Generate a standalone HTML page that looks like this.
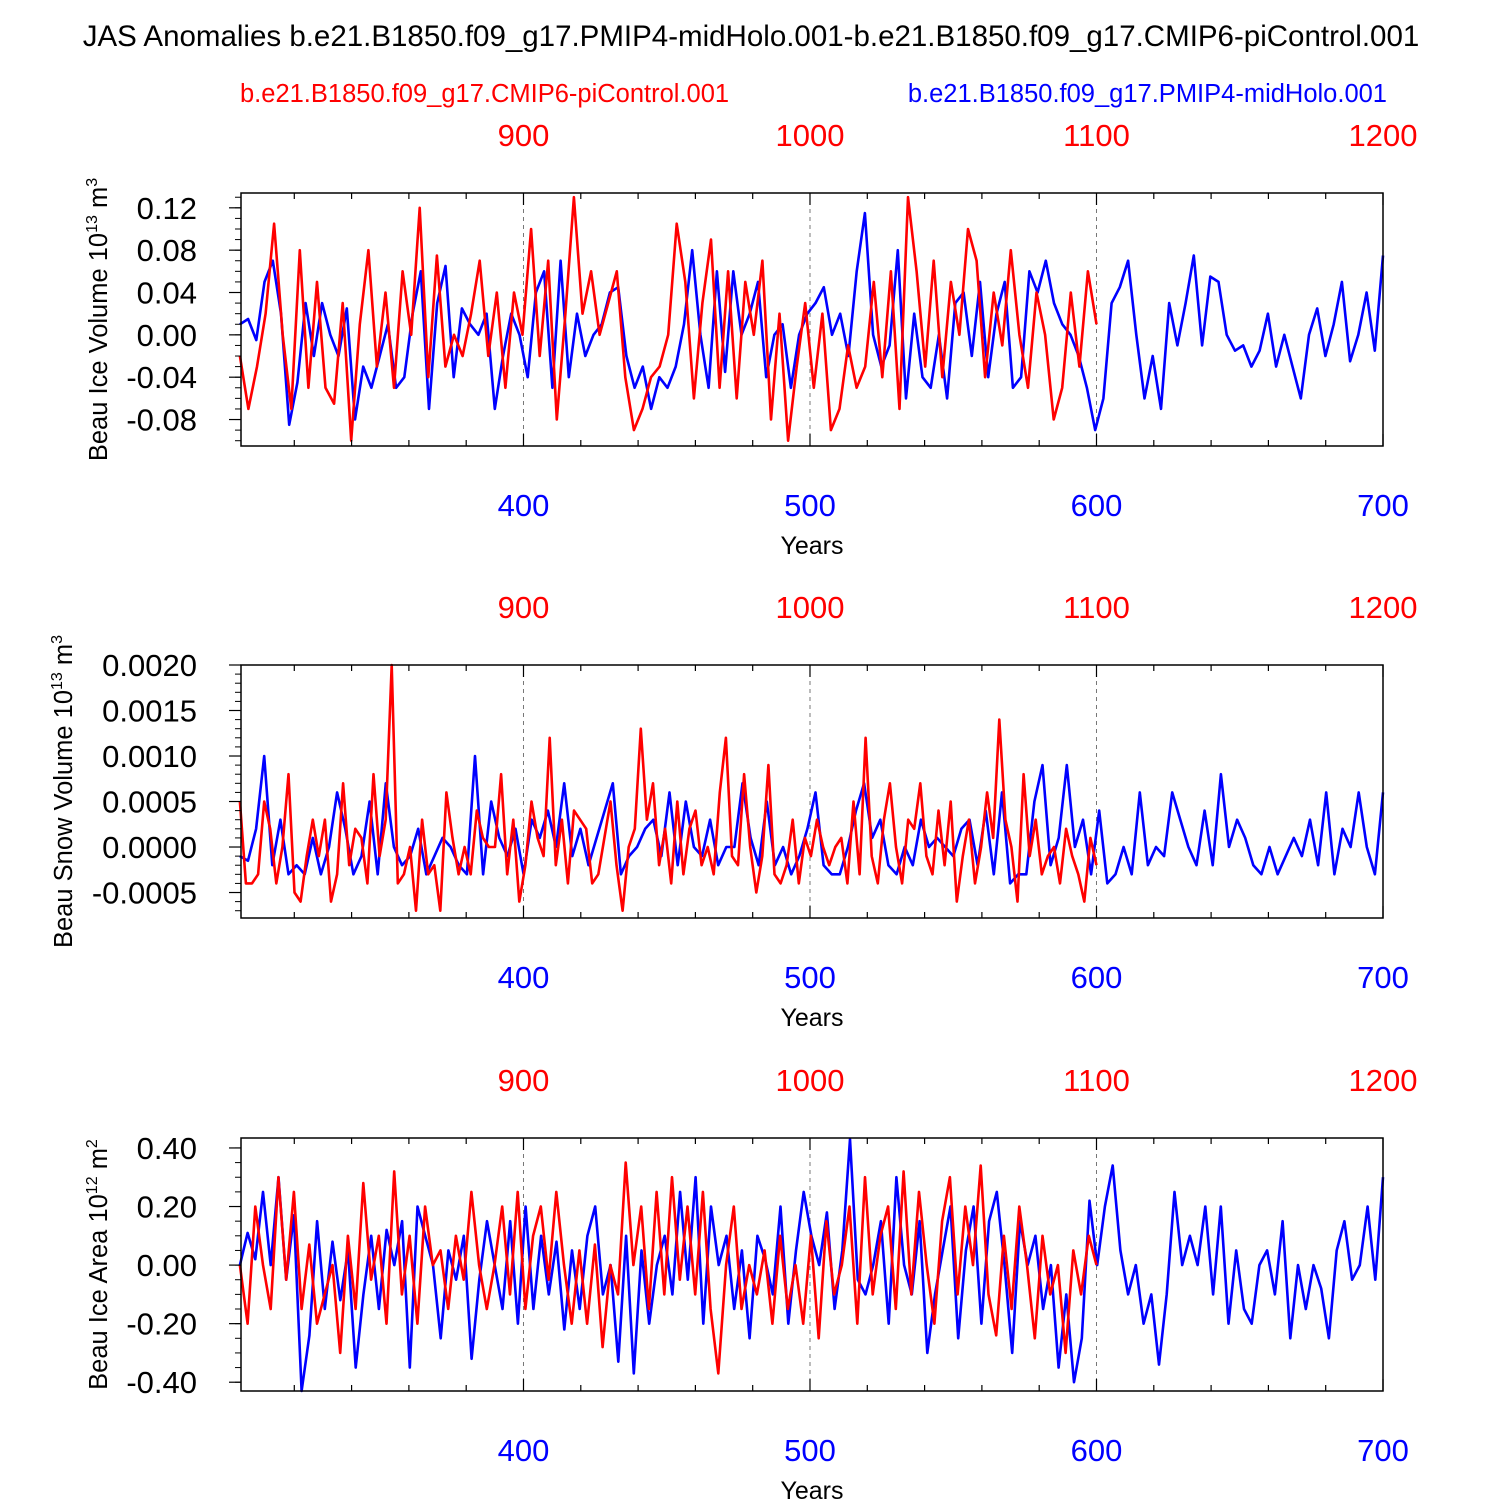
<!DOCTYPE html>
<html><head><meta charset="utf-8"><style>
body{margin:0;background:#fff;}
svg text{font-family:"Liberation Sans",Arial,sans-serif;}
</style></head><body>
<svg id="chart" width="1500" height="1500" xmlns="http://www.w3.org/2000/svg">
<text x="751" y="46" font-size="29.5" text-anchor="middle">JAS Anomalies b.e21.B1850.f09_g17.PMIP4-midHolo.001-b.e21.B1850.f09_g17.CMIP6-piControl.001</text>
<text x="240" y="102" font-size="25.5" fill="#ff0000">b.e21.B1850.f09_g17.CMIP6-piControl.001</text>
<text x="1387" y="102" font-size="25.5" fill="#0000ff" text-anchor="end">b.e21.B1850.f09_g17.PMIP4-midHolo.001</text>
</svg>
<script>
const blueTicks=[400,500,600,700];
const redTickLabels=["900","1000","1100","1200"];
const blue1=[0.01,0.015,-0.005,0.05,0.07,0.02,-0.085,-0.045,0.03,-0.02,0.03,0.0,-0.02,0.025,-0.08,-0.03,-0.05,-0.02,0.01,-0.05,-0.04,0.02,0.06,-0.07,0.03,0.065,-0.04,0.025,0.01,0.0,0.02,-0.07,-0.02,0.02,0.0,-0.04,0.04,0.06,-0.05,0.07,-0.04,0.02,-0.02,0.0,0.01,0.04,0.045,-0.02,-0.05,-0.03,-0.07,-0.04,-0.05,-0.03,0.01,0.08,0.0,-0.05,0.06,-0.035,0.06,0.0,0.02,0.05,-0.04,0.0,0.01,-0.05,0.0,0.02,0.03,0.045,0.0,0.02,-0.02,0.06,0.115,0.0,-0.03,-0.01,0.08,-0.06,0.02,-0.04,-0.05,0.0,-0.06,0.03,0.04,-0.02,0.05,-0.04,0.02,0.05,-0.05,-0.04,0.06,0.04,0.07,0.03,0.01,0.0,-0.02,-0.05,-0.09,-0.06,0.03,0.045,0.07,0.0,-0.06,-0.02,-0.07,0.03,-0.01,0.03,0.075,-0.01,0.055,0.05,0.0,-0.015,-0.01,-0.03,-0.015,0.02,-0.03,0.0,-0.03,-0.06,0.0,0.025,-0.02,0.01,0.05,-0.025,0.0,0.04,-0.015,0.075];
const red1=[-0.02,-0.07,-0.03,0.02,0.105,0.0,-0.07,0.08,-0.05,0.05,-0.05,-0.065,0.03,-0.1,0.01,0.08,-0.03,0.04,-0.05,0.06,0.0,0.12,-0.04,0.075,-0.03,0.0,-0.02,0.02,0.07,-0.02,0.04,-0.05,0.04,0.0,0.1,-0.02,0.07,-0.08,0.02,0.13,0.02,0.06,0.0,0.03,0.06,-0.04,-0.09,-0.07,-0.04,-0.03,0.0,0.105,0.05,-0.06,0.03,0.09,-0.05,0.06,-0.06,0.05,0.0,0.07,-0.08,0.02,-0.1,-0.03,0.03,-0.05,0.02,-0.09,-0.07,-0.01,-0.05,-0.03,0.05,-0.04,0.06,-0.07,0.13,0.06,-0.03,0.07,-0.04,0.05,0.0,0.1,0.07,-0.04,0.04,-0.01,0.08,0.0,-0.05,0.04,0.0,-0.08,-0.05,0.04,-0.03,0.06,0.01];
const blue2=[-0.0001,-0.00015,0.0002,0.001,-0.0002,0.0003,-0.0003,-0.0002,-0.0003,0.0001,-0.0003,0.0,0.0006,0.0002,-0.0003,-0.0001,0.0005,-0.0003,0.0007,0.0,-0.0002,-0.0001,0.0002,-0.0003,-0.0001,0.0001,0.0,-0.0002,-0.0003,0.001,-0.0003,0.0005,0.0001,-0.0001,0.0002,-0.0003,0.0003,0.0001,0.0004,0.0,0.0007,-0.0001,0.0002,-0.0002,0.0001,0.0004,0.0007,-0.0003,-0.0001,0.0,0.0002,0.0003,-0.0001,0.0006,-0.0002,0.0005,0.0,-0.0001,0.0003,-0.0002,0.0,0.0,0.0007,0.0001,-0.0002,0.0005,-0.0002,0.0,-0.0003,-0.0001,0.0002,0.0006,-0.0002,-0.0003,-0.0003,0.0,0.0004,0.0007,0.0001,0.0003,-0.0002,-0.0003,0.0,-0.0002,0.0003,0.0,0.0001,0.0,-0.0001,0.0002,0.0003,-0.0002,0.0004,-0.0003,0.0006,-0.0004,-0.0003,-0.0003,0.0005,0.0009,-0.0002,0.0001,0.0009,0.0,0.0003,-0.0003,0.0004,-0.0004,-0.0003,0.0,-0.0003,0.0006,-0.0002,0.0,-0.0001,0.0006,0.0003,0.0,-0.0002,0.0004,-0.0002,0.0008,0.0,0.0003,0.0001,-0.0002,-0.0003,0.0,-0.0003,-0.0001,0.0001,-0.0001,0.0003,-0.0002,0.0006,-0.0003,0.0002,0.0,0.0006,0.0,-0.0003,0.0006];
const red2=[0.0005,-0.0004,-0.0004,-0.0003,0.0005,0.0002,-0.0004,0.0,0.0008,-0.0005,-0.0006,-0.0001,0.0003,-0.0001,0.0003,-0.0006,-0.0003,0.0007,-0.0002,0.0002,0.0001,-0.0004,0.0008,-0.0001,0.0003,0.002,-0.0004,-0.0003,0.0,-0.0007,0.0003,-0.0003,-0.0002,-0.0007,0.0006,0.0001,-0.0003,0.0,-0.0003,0.0004,0.0001,0.0,0.0,0.0008,-0.0003,0.0003,-0.0006,-0.0002,0.0005,0.0001,-0.0001,0.0012,-0.0002,0.0003,-0.0004,0.0004,0.0003,0.0002,-0.0004,-0.0003,0.0001,0.0005,-0.0002,-0.0007,0.0,0.0002,0.0013,0.0003,0.0007,-0.0002,0.0002,-0.0004,0.0005,-0.0003,0.0002,0.0004,-0.0002,0.0,-0.0003,0.0006,0.0012,-0.0001,-0.0002,0.0008,0.0,-0.0005,-0.0001,0.0009,-0.0003,-0.0004,-0.0002,0.0003,-0.0004,0.0001,-0.0001,0.0003,0.0,-0.0002,0.0,0.0001,-0.0004,0.0005,-0.0003,0.0012,-0.0001,-0.0004,0.0003,0.0007,0.0,-0.0004,0.0003,0.0002,0.0007,-0.0001,-0.0003,0.0004,-0.0002,0.0005,-0.0006,-0.0001,0.0003,-0.0004,0.0,0.0006,0.0001,0.0014,0.0003,0.0,-0.0006,0.0008,-0.0001,0.0003,-0.0003,-0.0001,0.0,-0.0004,0.0002,-0.0001,-0.0003,-0.0006,0.0001,-0.0002];
const blue3=[0.0,0.11,0.02,0.25,0.0,0.3,-0.05,0.17,-0.43,-0.24,0.15,-0.15,0.08,-0.12,0.05,-0.35,-0.1,0.1,-0.15,0.12,0.0,0.15,-0.35,0.2,0.1,0.0,-0.25,0.05,-0.05,0.1,-0.32,-0.05,0.15,0.0,-0.15,0.15,-0.2,0.2,-0.15,0.1,-0.1,0.08,-0.22,0.05,-0.15,0.1,0.2,-0.1,0.0,-0.33,0.1,-0.37,0.05,-0.2,0.0,0.1,-0.1,0.25,-0.05,0.3,-0.2,0.2,0.0,0.1,-0.15,0.05,-0.25,0.1,0.02,-0.1,0.2,-0.2,0.05,0.25,0.1,0.0,0.18,-0.15,0.05,0.43,-0.05,-0.1,0.0,0.15,-0.2,0.3,0.0,-0.1,0.15,-0.3,-0.1,0.05,0.2,-0.25,0.05,0.2,-0.2,0.15,0.25,0.0,-0.3,0.15,0.0,0.1,-0.15,0.0,-0.35,-0.1,-0.4,-0.25,0.22,0.0,0.2,0.34,0.05,-0.1,0.0,-0.2,-0.1,-0.34,-0.1,0.25,0.0,0.1,0.0,0.2,-0.1,0.2,-0.2,0.05,-0.15,-0.2,0.0,0.05,-0.1,0.15,-0.25,0.0,-0.15,0.0,-0.08,-0.25,0.05,0.15,-0.05,0.0,0.2,-0.05,0.3];
const red3=[0.0,-0.2,0.2,0.0,-0.15,0.3,-0.05,0.25,-0.15,0.07,-0.2,-0.1,0.0,-0.3,0.1,-0.15,0.28,-0.05,0.1,-0.2,0.32,-0.1,0.1,-0.2,0.2,0.0,0.05,-0.15,0.1,-0.05,0.25,0.0,-0.15,0.0,0.2,-0.1,0.25,-0.15,0.1,0.2,-0.05,0.25,0.0,-0.2,0.05,-0.2,0.07,-0.28,0.0,-0.1,0.35,0.0,0.2,-0.15,0.25,-0.1,0.3,-0.05,0.2,-0.1,0.25,-0.15,-0.37,0.0,0.2,-0.15,0.0,-0.1,0.05,-0.2,0.1,-0.15,0.0,-0.2,0.1,-0.25,0.15,-0.1,0.0,0.2,-0.2,0.3,-0.1,0.1,0.2,-0.15,0.32,-0.1,0.25,0.0,-0.2,0.15,0.3,-0.1,0.2,0.0,0.34,-0.1,-0.24,0.1,-0.15,0.2,0.0,-0.25,0.1,-0.1,0.0,-0.3,0.05,-0.1,0.1,0.0];
const yTicks1=[0.12,0.08,0.04,0.0,-0.04,-0.08];
const yLabels1=["0.12","0.08","0.04","0.00","-0.04","-0.08"];
const yTicks2=[0.002,0.0015,0.001,0.0005,0.0,-0.0005];
const yLabels2=["0.0020","0.0015","0.0010","0.0005","0.0000","-0.0005"];
const yTicks3=[0.4,0.2,0.0,-0.2,-0.4];
const yLabels3=["0.40","0.20","0.00","-0.20","-0.40"];

const NS="http://www.w3.org/2000/svg";
const svg=document.getElementById('chart');
function mk(tag,attrs,parent){const e=document.createElementNS(NS,tag);for(const k in attrs)e.setAttribute(k,attrs[k]);(parent||svg).appendChild(e);return e;}
const X0=241,X1=1383,XMIN=301.4,XMAX=700;
function xs(yr){return X0+(yr-XMIN)/(XMAX-XMIN)*(X1-X0);}
const panels=[
 {top:193,bot:446,vmax:0.134,vmin:-0.105,minor:0.01,ticks:yTicks1,labels:yLabels1,blue:blue1,red:red1,title:"Beau Ice Volume 10",sup:"13",unit:" m",usup:"3",tx:107},
 {top:665,bot:918,vmax:0.002,vmin:-0.00078,minor:0.0001,ticks:yTicks2,labels:yLabels2,blue:blue2,red:red2,title:"Beau Snow Volume 10",sup:"13",unit:" m",usup:"3",tx:72},
 {top:1138,bot:1391,vmax:0.434,vmin:-0.43,minor:0.05,ticks:yTicks3,labels:yLabels3,blue:blue3,red:red3,title:"Beau Ice Area 10",sup:"12",unit:" m",usup:"2",tx:107}
];
panels.forEach((p,pi)=>{
 const g=mk('g',{});
 
 
 const ys=v=>p.top+(p.vmax-v)/(p.vmax-p.vmin)*(p.bot-p.top);
 [400,500,600].forEach(t=>{const l=mk('line',{x1:xs(t),x2:xs(t),y1:p.top,y2:p.bot,stroke:'#777','stroke-width':1,'stroke-dasharray':'4,4'},g);
  
  });
 function series(vals,yStart,yEnd,color,name){
  const step=(yEnd-yStart)/(vals.length-1);
  const pts=vals.map((v,i)=>xs(yStart+i*step).toFixed(1)+','+Math.max(p.top,Math.min(p.bot,ys(v))).toFixed(1)).join(' ');
  const pl=mk('polyline',{points:pts,fill:'none',stroke:color,'stroke-width':2.6,'stroke-linejoin':'round'},g);
  
  
 }
 series(p.blue,301,700,'#0000ff','blue-series');
 series(p.red,301,600,'#ff0000','red-series');
 const fr=mk('rect',{x:X0,y:p.top,width:X1-X0,height:p.bot-p.top,fill:'none',stroke:'#000','stroke-width':1.5},g);
 
 
 for(let t=320;t<=700;t+=20){
  const maj=t%100===0, len=maj?12:6;
  mk('line',{x1:xs(t),x2:xs(t),y1:p.bot,y2:p.bot-len,stroke:'#000','stroke-width':1.2},g);
  mk('line',{x1:xs(t),x2:xs(t),y1:p.top,y2:p.top+len,stroke:'#000','stroke-width':1.2},g);
 }
 blueTicks.forEach((t,i)=>{
  const b=mk('text',{x:xs(t),y:p.bot+70,'font-size':31,fill:'#0000ff','text-anchor':'middle'},g);b.textContent=t;
  
  
  const r=mk('text',{x:xs(t),y:p.top-47,'font-size':31,fill:'#ff0000','text-anchor':'middle'},g);r.textContent=redTickLabels[i];
  
  
 });
 const yt=mk('text',{x:812,y:p.bot+108,'font-size':25,'text-anchor':'middle'},g);yt.textContent='Years';
 
 
 for(let k=Math.ceil(p.vmin/p.minor);k*p.minor<=p.vmax+1e-12;k++){
  const v=k*p.minor;const y=ys(v);
  mk('line',{x1:X0,x2:X0-6,y1:y,y2:y,stroke:'#000','stroke-width':1},g);
 }
 p.ticks.forEach((t,i)=>{
  const y=ys(t);
  mk('line',{x1:X0,x2:X0-12,y1:y,y2:y,stroke:'#000','stroke-width':1.2},g);
  const tl=mk('text',{x:X0-44,y:y+11,'font-size':31,'text-anchor':'end'},g);tl.textContent=p.labels[i];
  
  
 });
 const cy=(p.top+p.bot)/2;
 const tt=mk('text',{x:p.tx,y:cy,'font-size':25.5,'text-anchor':'middle',transform:`rotate(-90 ${p.tx} ${cy})`},g);
 
 
 tt.innerHTML=`${p.title}<tspan font-size="16" dy="-10">${p.sup}</tspan><tspan dy="10">${p.unit}</tspan><tspan font-size="16" dy="-10">${p.usup}</tspan>`;
});
</script>
</body></html>
